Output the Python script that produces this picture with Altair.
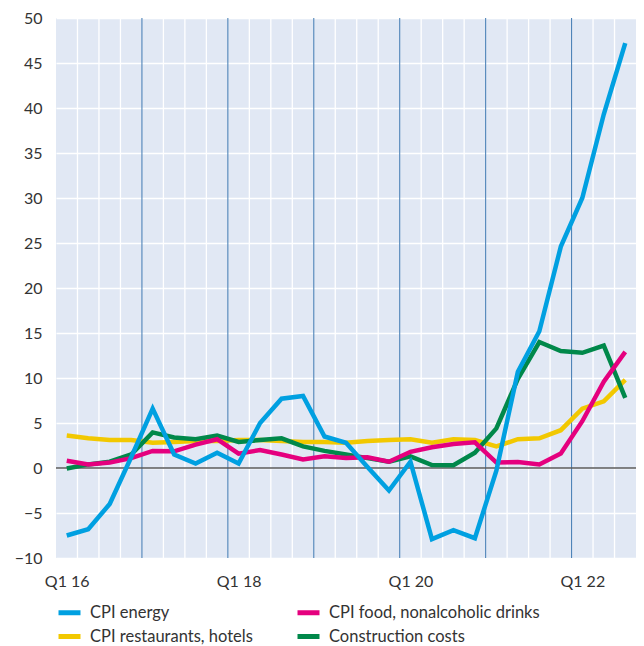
import altair as alt
import pandas as pd

quarters = [f"Q{q} {y}" for y in range(16, 23) for q in range(1, 5)][:27]

energy = [-7.5, -6.8, -4.0, 1.2, 6.6, 1.5, 0.5, 1.7, 0.5, 5.0, 7.7, 8.0,
          3.5, 2.8, 0.1, -2.5, 0.7, -7.9, -6.9, -7.8, -0.3, 10.7, 15.2,
          24.6, 30.0, 39.3, 47.2]
restaurants = [3.6, 3.3, 3.1, 3.1, 2.8, 2.9, 3.0, 3.0, 3.1, 3.1, 3.0, 2.9,
               2.9, 2.8, 3.0, 3.1, 3.2, 2.8, 3.2, 3.1, 2.4, 3.2, 3.3,
               4.2, 6.6, 7.4, 9.8]
food = [0.8, 0.4, 0.6, 1.1, 1.9, 1.85, 2.6, 3.2, 1.6, 2.0, 1.5, 0.95,
        1.3, 1.1, 1.2, 0.7, 1.8, 2.3, 2.67, 2.85, 0.6, 0.66, 0.4,
        1.6, 5.2, 9.6, 12.9]
construction = [-0.05, 0.4, 0.7, 1.5, 3.96, 3.4, 3.2, 3.6, 2.9, 3.1, 3.3, 2.4,
                1.9, 1.5, 1.1, 0.7, 1.3, 0.33, 0.3, 1.7, 4.4, 9.9, 14.0,
                13.0, 12.8, 13.6, 7.8]

series_names = ["CPI energy", "CPI food, nonalcoholic drinks",
                "CPI restaurants, hotels", "Construction costs"]
series_colors = ["#00a0e1", "#e5007e", "#f2c800", "#00884a"]
draw_order = ["CPI restaurants, hotels", "Construction costs",
              "CPI food, nonalcoholic drinks", "CPI energy"]
values = {
    "CPI energy": energy,
    "CPI food, nonalcoholic drinks": food,
    "CPI restaurants, hotels": restaurants,
    "Construction costs": construction,
}
tick_quarters = ["Q1 16", "Q1 18", "Q1 20", "Q1 22"]

rows = []
for s in draw_order:
    for i, (q, v) in enumerate(zip(quarters, values[s])):
        rows.append({"t": i, "quarter": q, "value": v, "series": s})
df = pd.DataFrame(rows)

bounds = [i + 0.5 for i in range(len(quarters) - 1)]
grid_df = pd.DataFrame({"b": [b for b in bounds if not quarters[int(b + 0.5)].startswith("Q1")]})
year_df = pd.DataFrame({"b": [b for b in bounds if quarters[int(b + 0.5)].startswith("Q1")]})
zero_df = pd.DataFrame({"y": [0]})

tick_idx = [quarters.index(q) for q in tick_quarters]
label_expr = " : ".join(
    [f"datum.value == {i} ? '{q}'" for i, q in zip(tick_idx, tick_quarters)] + ["''"]
)

FONT = "Lato"
TXT = "#333333"
xscale = alt.Scale(domain=[-0.5, len(quarters) - 0.5], nice=False, zero=False)
yscale = alt.Scale(domain=[-10, 50], nice=False)
xaxis = alt.Axis(values=tick_idx, labelExpr=label_expr, title=None,
                 grid=False, ticks=False, domain=False,
                 labelFontSize=16, labelColor=TXT, labelFont=FONT,
                 labelPadding=15)
yaxis = alt.Axis(values=list(range(-10, 51, 5)), title=None,
                 grid=True, gridColor="white", gridWidth=1.3,
                 ticks=False, domain=False, labelFontSize=16,
                 labelColor=TXT, labelFont=FONT, labelPadding=14)

white_rules = alt.Chart(grid_df).mark_rule(color="white", strokeWidth=1.3).encode(
    x=alt.X("b:Q", scale=xscale, axis=xaxis)
)
blue_rules = alt.Chart(year_df).mark_rule(color="#4f84b8", strokeWidth=1.1).encode(
    x=alt.X("b:Q", scale=xscale, axis=xaxis)
)
zero_rule = alt.Chart(zero_df).mark_rule(color="#5a5a5a", strokeWidth=1.6).encode(
    y=alt.Y("y:Q", scale=yscale, axis=yaxis)
)

lines = alt.Chart(df).mark_line(strokeWidth=4.5, strokeJoin="miter").encode(
    x=alt.X("t:Q", scale=xscale, axis=xaxis),
    y=alt.Y("value:Q", scale=yscale, axis=yaxis),
    color=alt.Color("series:N",
                    scale=alt.Scale(domain=series_names, range=series_colors),
                    legend=alt.Legend(title=None, orient="bottom", columns=2,
                                      symbolType="stroke", symbolStrokeWidth=5,
                                      symbolSize=484, labelFontSize=16.5,
                                      labelFont=FONT, labelColor=TXT,
                                      labelOffset=7, columnPadding=34,
                                      rowPadding=0, offset=10, padding=0,
                                      labelLimit=400)),
    detail="series:N",
    order="t:Q",
)

chart = alt.layer(white_rules, blue_rules, zero_rule, lines).properties(
    width=580, height=540,
    autosize=alt.AutoSizeParams(type="none"),
    padding={"left": 48, "top": 10, "right": 0, "bottom": 96},
).configure_view(fill="#e1e8f4", stroke=None)

chart.save("out.html", embed_options={"renderer": "svg", "actions": False})
